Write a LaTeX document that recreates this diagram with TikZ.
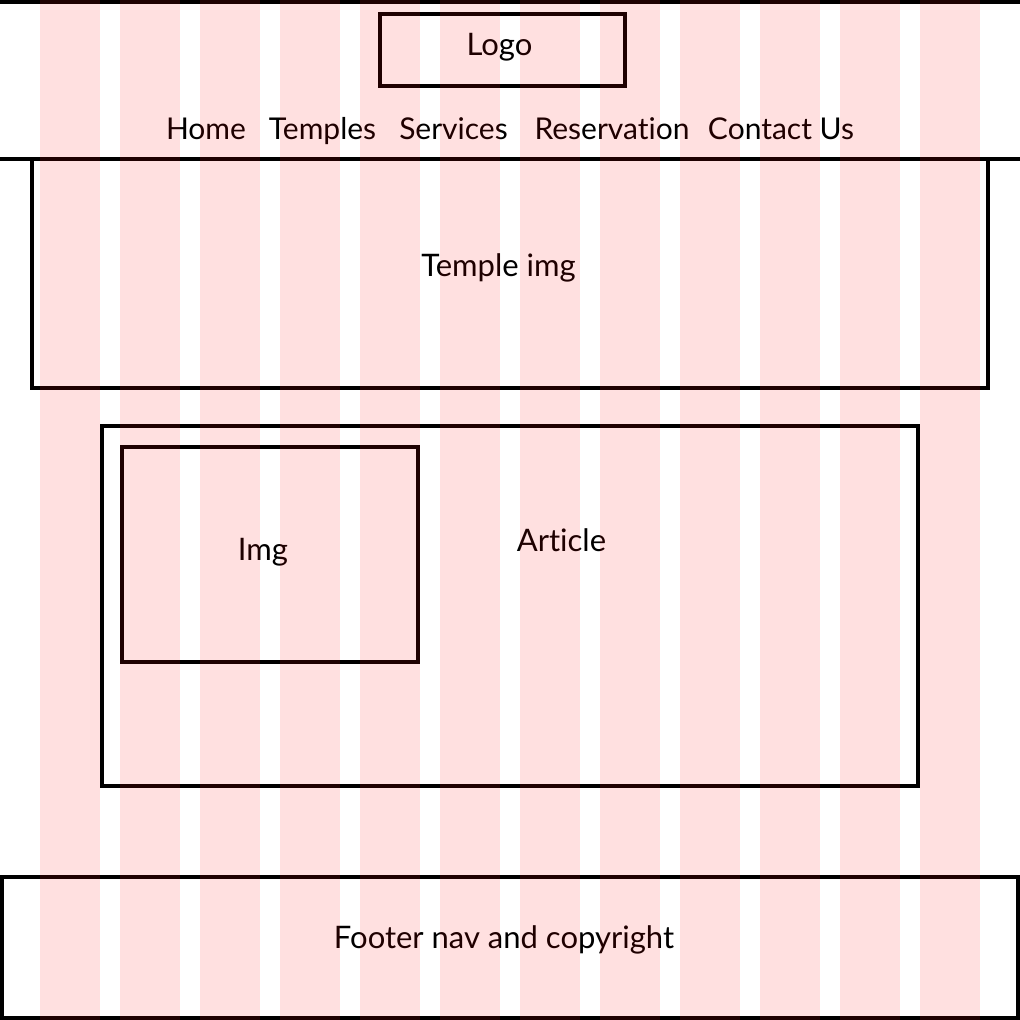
\documentclass[tikz,border=0pt]{standalone}
\usepackage{fontspec}
\setmainfont{Lato}[Ligatures={NoCommon,NoRare}]
\begin{document}
\begin{tikzpicture}[x=1pt,y=-1pt,
  frame/.style={draw=black,line width=4pt},
  lbl/.style={anchor=base,inner sep=0pt,font=\fontsize{31}{33}\selectfont,text=black},
  navlbl/.style={lbl,font=\fontsize{30}{32}\selectfont},
  gridcol/.style={fill=red,fill opacity=0.12,draw=none}]
\useasboundingbox (0,0) rectangle (1020,1020);
% header lines
\coordinate (tl) at (0,2); \coordinate (tr) at (1020,2);
\coordinate (hl) at (0,159); \coordinate (hr) at (1020,159);
\draw[frame] (tl) -- (tr);
\draw[frame] (hl) -- (hr);
% boxes
\draw[frame] (380,14) rectangle (625,86);
\draw[frame] (32,159) rectangle (988,388);
\draw[frame] (102,426) rectangle (918,786);
\draw[frame] (122,447) rectangle (418,662);
\draw[frame] (2,877) rectangle (1018,1018);
% labels
\node[lbl] (logo) at (499.5,55) {Logo};
\node[navlbl] (home) at (206,139) {Home};
\node[navlbl] (temples) at (322.5,139) {Temples};
\node[navlbl] (services) at (453.5,139) {Services};
\node[navlbl] (reservation) at (612,139) {Reservation};
\node[navlbl] (contact) at (781,139) {Contact Us};
\node[lbl] (templeimg) at (498.5,276) {Temple img};
\node[lbl] (img) at (263,560) {Img};
\node[lbl] (article) at (561.5,551) {Article};
\node[lbl] (footer) at (504,948) {Footer nav and copyright};
% grid columns
\foreach \k in {0,...,11}{
  \fill[gridcol] ({40+80*\k},0) rectangle ({100+80*\k},1020);
}
\end{tikzpicture}
\end{document}
